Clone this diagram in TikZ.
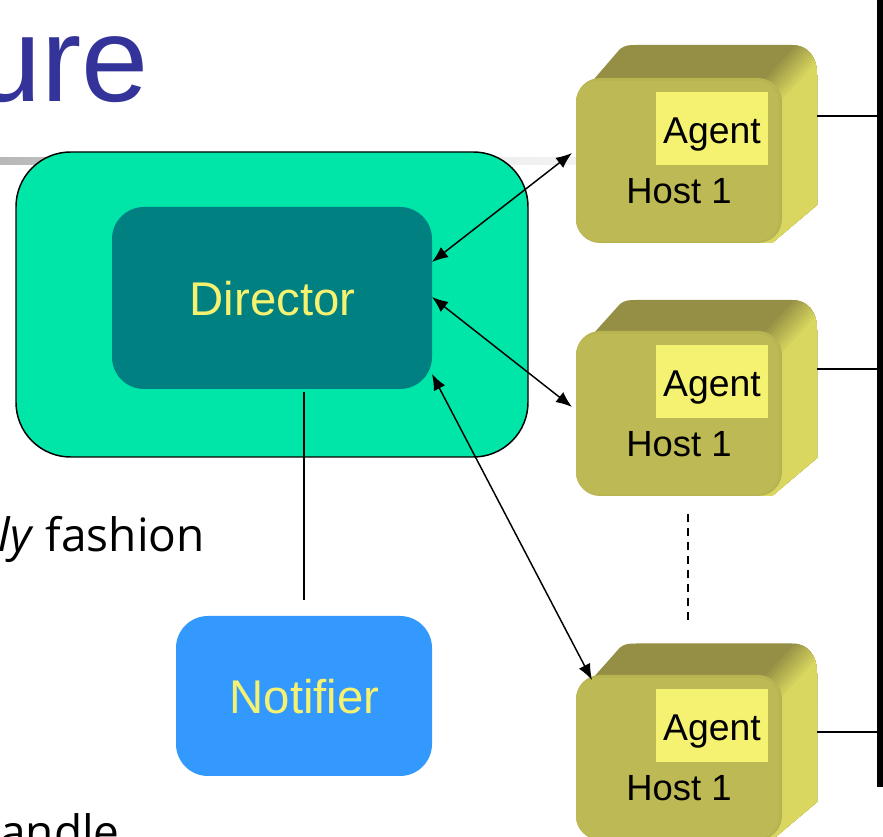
\documentclass[tikz,border=0pt]{standalone}
\usepackage{fontspec}
\setmainfont{Liberation Sans}
\newfontfamily\bodyfont{Open Sans}
\usetikzlibrary{arrows.meta}
\definecolor{titleblue}{HTML}{333399}
\definecolor{greenbox}{HTML}{00E5A8}
\definecolor{teal}{HTML}{008080}
\definecolor{notifblue}{HTML}{3399FF}
\definecolor{labelyellow}{HTML}{F5F171}
\definecolor{cubefront}{HTML}{BDB955}
\definecolor{cubeedge}{HTML}{B8B451}
\definecolor{cubetop}{HTML}{948F45}
\definecolor{cubeside}{HTML}{D9D75F}
\tikzset{
  px/.style={x=0.75pt,y=-0.75pt},
  panel/.style={rectangle,rounded corners=#1,inner sep=0pt,outer sep=0pt},
  linkarrow/.style={{Latex[length=12pt,width=9.5pt]}-{Latex[length=12pt,width=9.5pt]},line width=1.1pt,black},
  plainlink/.style={line width=1.6pt,black},
  agentbox/.style={fill=labelyellow,minimum width=84pt,minimum height=54.75pt,inner sep=0pt,outer sep=0pt},
  agenttext/.style={font=\fontsize{28}{28}\selectfont,text=black,inner sep=0pt,anchor=base},
  hosttext/.style={font=\fontsize{27.3}{27}\selectfont,text=black,inner sep=0pt,anchor=base},
  boxtext/.style={font=\fontsize{35.5}{35.5}\selectfont,text=labelyellow,inner sep=0pt,anchor=base},
  bodytext/.style={font=\bodyfont\fontsize{34.5}{34.5}\selectfont,text=black,inner sep=0pt,anchor=base east},
}
% #1 name, #2 offset of the front face, #3 top edge of the cube
\newcommand{\hostcube}[3]{%
  \begin{scope}[shift={(0,#2)}]
    \begin{scope}
      \clip (576,100) -- (620,#3+4) .. controls (625,#3) and (630,#3) .. (636,#3)
        -- (792,#3) .. controls (808,#3) and (817,#3+12) .. (817,#3+30)
        -- (817,205) -- (772,243) -- (600,243) -- (576,200) -- cycle;
      \fill[cubetop] (570,30) rectangle (830,110);
      \foreach \i in {0,...,9}{
        \pgfmathtruncatemacro{\p}{10*\i+10}
        \fill[cubeside!\p!cubetop] ({716+4*\i},133) -- ({806+4*\i},34) -- (830,34) -- (830,250) -- (600,250) -- cycle;
      }
    \end{scope}
    \fill[cubeedge,rounded corners=18pt] (576,78) rectangle (782,243);
    \fill[cubefront,rounded corners=16pt] (576,81) rectangle (779,241);
    \node[agentbox] (#1agent) at (712,128.5) {};
    \node[agenttext] (#1agentlabel) at (712,144) {Agent};
    \node[hosttext] (#1label) at (679,204) {Host 1};
  \end{scope}
}
\begin{document}
\begin{tikzpicture}[px]
\useasboundingbox (0,0) rectangle (883,837);
\clip (0,0) rectangle (883,837);
\fill[white] (0,0) rectangle (883,837);
% title and rule
\node[font=\fontsize{90.5}{90}\selectfont,text=titleblue,inner sep=0pt,anchor=base east] (title) at (149,102) {ure};
\shade[left color=black!28,right color=white,middle color=black!8] (0,158) rectangle (830,165);
% body text
\node[bodytext] (line1) at (205,552) {\textit{ly} fashion};
\node[bodytext] (line2) at (120,849) {andle};
% director
\node[panel=41pt,fill=greenbox,draw=black,line width=1.1pt,minimum width=384pt,minimum height=228.75pt] (outer) at (272,304.5) {};
\node[panel=24pt,fill=teal,minimum width=240pt,minimum height=136.5pt] (director) at (272,298) {};
\node[boxtext] (directorlabel) at (272.5,316) {Director};
% notifier
\node[panel=24pt,fill=notifblue,minimum width=192pt,minimum height=120pt] (notifier) at (304,696) {};
\node[boxtext] (notifierlabel) at (304.5,714) {Notifier};
% hosts
\hostcube{hosta}{0}{45}
\hostcube{hostb}{253}{47}
\hostcube{hostc}{597}{46.5}
% bus
\coordinate (bustop) at (880,0);
\coordinate (busbottom) at (880,787);
\draw[line width=4.6pt,black] (bustop) -- (busbottom);
\coordinate (hostaport) at (817,116);
\coordinate (hostbport) at (817,369);
\coordinate (hostcport) at (817,732);
\foreach \h in {hosta,hostb,hostc}{
  \draw[plainlink] (\h port) -- (\h port -| bustop);
}
% links
\coordinate (d1) at (432,262);
\coordinate (d2) at (432,297);
\coordinate (d3) at (432,374);
\coordinate (h1) at (572,153);
\coordinate (h2) at (572,407);
\coordinate (h3) at (592,680);
\draw[linkarrow] (d1) -- (h1);
\draw[linkarrow] (d2) -- (h2);
\draw[linkarrow] (d3) -- (h3);
\coordinate (ntop) at (304,600);
\coordinate (dbot) at (304,392);
\draw[plainlink] (dbot) -- (ntop);
\coordinate (dash1) at (688,514);
\coordinate (dash2) at (688,620.5);
\draw[black,line width=1.1pt,dash pattern=on 6.2pt off 4.3pt] (dash1) -- (dash2);
\end{tikzpicture}
\end{document}
